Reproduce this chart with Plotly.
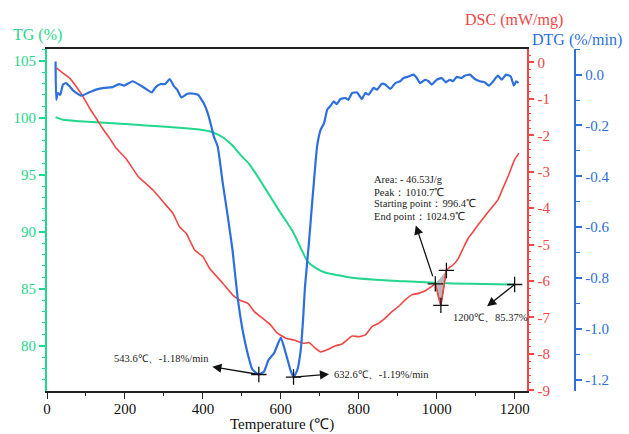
import plotly.graph_objects as go

# ---- thermogravimetric (TG) curve ----
tg_temp = [22, 41, 83, 168, 254, 339, 391, 425, 451, 476, 498, 519, 553, 596,
           630, 655, 668, 689, 715, 749, 766, 834, 919, 996, 1089, 1200]
tg_val = [100.05, 99.82, 99.70, 99.52, 99.32, 99.12, 98.97, 98.73, 98.29, 97.56,
          96.68, 95.94, 94.18, 91.83, 90.06, 88.30, 87.42, 86.83, 86.40, 86.18,
          86.05, 85.80, 85.65, 85.52, 85.43, 85.37]

# ---- heat flow (DSC) curve ----
dsc_temp = [24, 41, 58, 75, 92, 109, 126, 143, 160, 177, 202, 234, 272, 300, 323,
            340, 357, 379, 400, 417, 451, 476, 494, 515, 532, 553, 574, 591, 613,
            634, 659, 672, 689, 702, 719, 740, 757, 783, 800, 817, 834, 851, 868,
            885, 902, 919, 936, 953, 972, 987, 996.4, 1003, 1010.7, 1017, 1024.9,
            1030, 1042, 1056, 1068, 1081, 1094, 1106, 1123, 1140, 1157, 1170,
            1183, 1200, 1211]
dsc_val = [-0.15, -0.29, -0.43, -0.66, -0.93, -1.25, -1.53, -1.82, -2.07, -2.35,
           -2.63, -3.13, -3.50, -3.85, -4.14, -4.51, -4.69, -5.15, -5.33, -5.65,
           -6.06, -6.38, -6.52, -6.61, -6.84, -7.02, -7.21, -7.43, -7.57, -7.62,
           -7.71, -7.69, -7.85, -7.95, -7.89, -7.78, -7.73, -7.51, -7.53, -7.48,
           -7.25, -7.16, -7.02, -6.84, -6.70, -6.52, -6.38, -6.34, -6.26, -6.15,
           -6.08, -6.38, -6.67, -6.25, -5.71, -5.65, -5.56, -5.37, -5.10, -4.82,
           -4.64, -4.46, -4.23, -4.00, -3.77, -3.45, -3.13, -2.67, -2.49]

# ---- derivative (DTG) curve ----
dtg_temp = [22, 23.7, 28, 34, 41, 49, 58, 70, 88, 105, 126, 147, 168, 185, 198,
            220, 236, 254, 269, 279, 292, 303, 315, 326, 334, 345, 360, 377, 388,
            402, 415, 428, 438, 451, 464, 476, 489, 502, 515, 527, 543.6, 557,
            568, 583, 600, 613, 625, 632.6, 642, 651, 657, 662, 672, 681,
            689, 693, 702, 711, 719, 728, 736, 743, 753, 766, 773, 783, 796, 800,
            808, 817, 825, 838, 847, 859, 868, 881, 894, 906, 915, 928, 940, 949,
            957, 970, 979, 987, 1000, 1013, 1023, 1034, 1042, 1051, 1064, 1072,
            1085, 1098, 1111, 1123, 1134, 1145, 1157, 1167, 1178, 1190, 1198,
            1204, 1210]
dtg_val = [0.052, -0.099, -0.072, -0.079, -0.039, -0.033, -0.046, -0.066, -0.083,
           -0.072, -0.059, -0.052, -0.049, -0.037, -0.043, -0.026, -0.039, -0.056,
           -0.070, -0.049, -0.037, -0.037, -0.017, -0.046, -0.059, -0.090, -0.075,
           -0.075, -0.080, -0.112, -0.164, -0.243, -0.283, -0.427, -0.559, -0.690,
           -0.875, -1.006, -1.098, -1.160, -1.18, -1.168, -1.124, -1.095, -1.035,
           -1.098, -1.164, -1.19, -1.164, -1.085, -0.966, -0.835, -0.664,
           -0.493, -0.347, -0.283, -0.217, -0.191, -0.138, -0.122, -0.105, -0.116,
           -0.096, -0.092, -0.099, -0.072, -0.070, -0.079, -0.096, -0.072, -0.079,
           -0.052, -0.059, -0.036, -0.039, -0.056, -0.033, -0.026, -0.013, -0.007,
           0.0, -0.013, -0.033, -0.020, -0.026, -0.039, -0.020, -0.013, -0.030,
           -0.020, -0.026, -0.009, -0.013, -0.004, 0.0, -0.017, -0.026, -0.030,
           -0.043, -0.026, -0.004, -0.020, 0.0, -0.007, -0.043, -0.026, -0.033]

# ---- marked points ----
dtg_peak_temp = [543.6, 632.6]
dtg_peak_val = [-1.18, -1.19]
dsc_event_temp = [996.4, 1010.7, 1024.9]   # start, peak, end
dsc_event_val = [-6.08, -6.67, -5.71]
tg_end_temp = [1200]
tg_end_val = [85.37]

dtg_peak_labels = ["543.6℃、-1.18%/min", "632.6℃、-1.19%/min"]
tg_end_label = "1200℃、85.37%"
dsc_peak_lines = ["Area: - 46.53J/g", "Peak：1010.7℃",
                  "Starting point：996.4℃", "End point：1024.9℃"]

# ---- tick labels ----
dsc_ticks = [0, -1, -2, -3, -4, -5, -6, -7, -8, -9]
dsc_ticktext = ["0", "-1", "-2", "-3", "-4", "-5", "-6", "-7", "-8", "-9"]
dtg_ticks = [0.0, -0.2, -0.4, -0.6, -0.8, -1.0, -1.2]
dtg_ticktext = ["0.0", "-0.2", "-0.4", "-0.6", "-0.8", "-1.0", "-1.2"]

GREEN = "#22d68c"
RED = "#f04646"
BLUE = "#2d6fdc"
SERIF = "Liberation Serif, Times New Roman, serif"

fig = go.Figure()

fig.add_trace(go.Scatter(x=tg_temp, y=tg_val, mode="lines", yaxis="y",
                         line=dict(color=GREEN, width=2, shape="spline", smoothing=0.6),
                         showlegend=False))

# shaded endothermic peak between its start and end points
t0, t1 = dsc_event_temp[0], dsc_event_temp[-1]
area_x = [t for t in dsc_temp if t0 <= t <= t1]
area_y = [v for t, v in zip(dsc_temp, dsc_val) if t0 <= t <= t1]
fig.add_trace(go.Scatter(x=area_x, y=area_y, mode="lines", yaxis="y2",
                         fill="toself", fillcolor="#b8b8b8",
                         line=dict(color="#444", width=1), showlegend=False))

fig.add_trace(go.Scatter(x=dsc_temp, y=dsc_val, mode="lines", yaxis="y2",
                         line=dict(color=RED, width=1.6, shape="spline", smoothing=0.4),
                         showlegend=False))

fig.add_trace(go.Scatter(x=dtg_temp, y=dtg_val, mode="lines", yaxis="y3",
                         line=dict(color=BLUE, width=2.2, shape="spline", smoothing=0.4),
                         showlegend=False))

cross = dict(symbol="cross-thin", size=11, line=dict(color="#111", width=1.3))
fig.add_trace(go.Scatter(x=dtg_peak_temp, y=dtg_peak_val, mode="markers", yaxis="y3",
                         marker=cross, showlegend=False))
fig.add_trace(go.Scatter(x=dsc_event_temp, y=dsc_event_val, mode="markers", yaxis="y2",
                         marker=cross, showlegend=False))
fig.add_trace(go.Scatter(x=tg_end_temp, y=tg_end_val, mode="markers", yaxis="y",
                         marker=cross, showlegend=False))

ann = []
note_font = dict(family=SERIF, size=10.5, color="#222")


def arrow(x, y, yref, ax, ay, standoff=0):
    return dict(x=x, y=y, xref="x", yref=yref, ax=ax, ay=ay, text="",
                showarrow=True, arrowside="start", startarrowhead=2,
                startarrowsize=1.4, arrowwidth=1.3, arrowcolor="#111",
                standoff=standoff)


# DTG minima
ann.append(arrow(dtg_peak_temp[0], dtg_peak_val[0], "y3", -48, -8))
ann.append(dict(x=dtg_peak_temp[0], y=dtg_peak_val[0], xref="x", yref="y3",
                text=dtg_peak_labels[0], showarrow=False, xanchor="right",
                yanchor="middle", xshift=-48, yshift=16, font=note_font))
ann.append(arrow(dtg_peak_temp[1], dtg_peak_val[1], "y3", 37, -3))
ann.append(dict(x=dtg_peak_temp[1], y=dtg_peak_val[1], xref="x", yref="y3",
                text=dtg_peak_labels[1], showarrow=False, xanchor="left",
                yanchor="middle", xshift=38, yshift=3, font=note_font))

# DSC peak description
ann.append(arrow(dsc_event_temp[0], dsc_event_val[0], "y2", -20, -60, standoff=8))
for line, dy in zip(dsc_peak_lines, [104, 91.7, 80, 67.3]):
    ann.append(dict(x=dsc_event_temp[0], y=dsc_event_val[0], xref="x", yref="y2",
                    text=line, showarrow=False, xanchor="left", yanchor="middle",
                    xshift=-63, yshift=dy, font=note_font))

# final residual mass
ann.append(arrow(tg_end_temp[0], tg_end_val[0], "y", -29, 23))
ann.append(dict(x=tg_end_temp[0], y=tg_end_val[0], xref="x", yref="y",
                text=tg_end_label, showarrow=False, xanchor="left", yanchor="middle",
                xshift=-64, yshift=-33, font=note_font))

# axis titles
ann.append(dict(x=-0.0163, y=1.041, xref="paper", yref="paper", text="TG (%)",
                showarrow=False, xanchor="center", yanchor="middle",
                font=dict(family=SERIF, size=16, color=GREEN)))
ann.append(dict(x=0.807, y=1.085, xref="paper", yref="paper", text="DSC (mW/mg)",
                showarrow=False, xanchor="center", yanchor="middle",
                font=dict(family=SERIF, size=16, color=RED)))
ann.append(dict(x=0.9158, y=1.0263, xref="paper", yref="paper", text="DTG (%/min)",
                showarrow=False, xanchor="center", yanchor="middle",
                font=dict(family=SERIF, size=16, color=BLUE)))
ann.append(dict(x=0.406, y=-0.127, xref="paper", yref="paper", text="Temperature (℃)",
                showarrow=False, xanchor="center", yanchor="bottom", borderpad=0,
                font=dict(family=SERIF, size=15, color="#111")))

fig.update_layout(
    width=629, height=434,
    margin=dict(l=47, r=0, t=49, b=43),
    paper_bgcolor="white", plot_bgcolor="white",
    showlegend=False,
    annotations=ann,
    xaxis=dict(domain=[0, 0.8282], range=[0, 1230.5], showgrid=False, zeroline=False,
               showline=True, linecolor="#222", linewidth=1.5, mirror=True,
               ticks="outside", ticklen=6, tickwidth=1.3, tickcolor="#222",
               tick0=0, dtick=200, ticklabelstandoff=-3,
               minor=dict(ticks="outside", ticklen=3, tickwidth=1.2, tickcolor="#222",
                          tick0=0, dtick=100),
               tickfont=dict(family=SERIF, size=15, color="#111")),
    yaxis=dict(range=[76.03, 106.03], showgrid=False, zeroline=False,
               showline=True, linecolor=GREEN, linewidth=2,
               ticks="outside", ticklen=6, tickwidth=1.5, tickcolor=GREEN,
               tick0=0, dtick=5,
               minor=dict(ticks="outside", ticklen=3, tickwidth=1.3, tickcolor=GREEN,
                          tick0=0, dtick=1),
               tickfont=dict(family=SERIF, size=15, color=GREEN)),
    yaxis2=dict(range=[-9.02, 0.37], overlaying="y", side="right", anchor="x",
                showgrid=False, zeroline=False,
                showline=True, linecolor=RED, linewidth=1.8,
                ticks="outside", ticklen=6, tickwidth=1.5, tickcolor=RED,
                tickvals=dsc_ticks, ticktext=dsc_ticktext,
                minor=dict(ticks="outside", ticklen=3, tickwidth=1.3, tickcolor=RED,
                           tick0=0, dtick=0.2),
                tickfont=dict(family=SERIF, size=15, color=RED)),
    yaxis3=dict(range=[-1.245, 0.101], overlaying="y", side="right", anchor="free",
                position=0.9124, showgrid=False, zeroline=False,
                showline=True, linecolor=BLUE, linewidth=2,
                ticks="outside", ticklen=6, tickwidth=1.5, tickcolor=BLUE,
                tickvals=dtg_ticks, ticktext=dtg_ticktext,
                minor=dict(ticks="outside", ticklen=4, tickwidth=1.3, tickcolor=BLUE,
                           tick0=0, dtick=0.1),
                tickfont=dict(family=SERIF, size=15, color=BLUE)),
)

fig.write_html("out.html")
